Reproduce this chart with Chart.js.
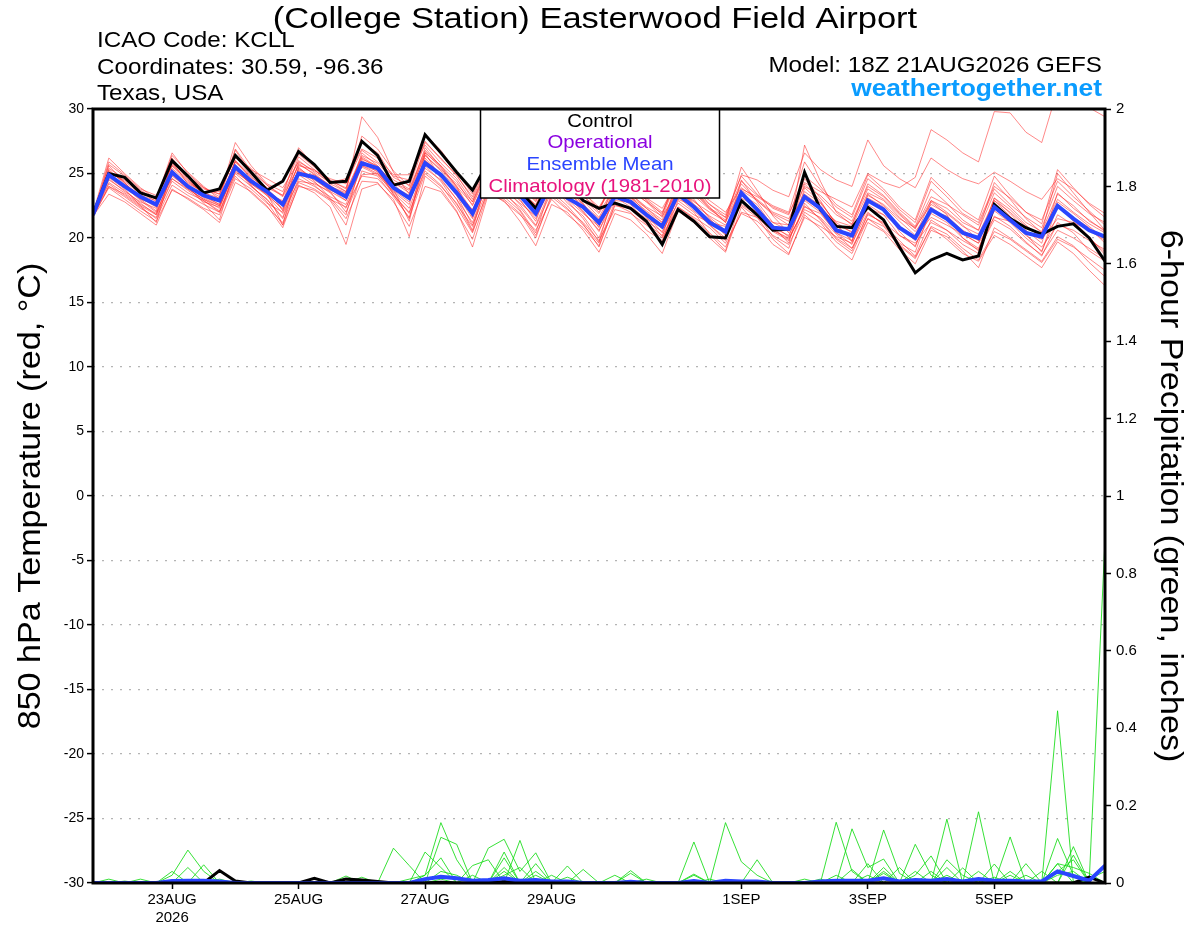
<!DOCTYPE html>
<html>
<head>
<meta charset="utf-8">
<title>Easterwood Field Airport - GEFS</title>
<script src="https://cdn.jsdelivr.net/npm/chart.js@4.4.1/dist/chart.umd.min.js"></script>
<style>
  html, body { margin: 0; padding: 0; background: #fff; }
  #wrap { position: relative; width: 1200px; height: 927px; }
</style>
</head>
<body>
<div id="wrap"><canvas id="gefsChart"></canvas></div>
<script>
// forecast hours from 18Z 21AUG2026, every 6 h
const hours = [0, 6, 12, 18, 24, 30, 36, 42, 48, 54, 60, 66, 72, 78, 84, 90, 96,
  102, 108, 114, 120, 126, 132, 138, 144, 150, 156, 162, 168, 174, 180, 186, 192,
  198, 204, 210, 216, 222, 228, 234, 240, 246, 252, 258, 264, 270, 276, 282, 288,
  294, 300, 306, 312, 318, 324, 330, 336, 342, 348, 354, 360, 366, 372, 378, 384];

const tickHours = [30, 78, 126, 174, 246, 294, 342];
const tickLabels = [['23AUG', '2026'], '25AUG', '27AUG', '29AUG', '1SEP', '3SEP', '5SEP'];

// 850 hPa temperature (C)
const tempControl = [21.8, 25.0, 24.7, 23.5, 23.1, 26.0, 24.8, 23.5, 23.8, 26.4, 25.1, 23.7, 24.4,
  26.7, 25.7, 24.3, 24.4, 27.5, 26.4, 24.1, 24.4, 28.0, 26.6, 25.1, 23.7, 25.9, 25.0, 23.6, 22.3,
  24.6, 24.2, 22.9, 22.3, 22.7, 22.3, 21.3, 19.5, 22.2, 21.3, 20.1, 20.0, 22.9, 21.8, 20.6, 20.7,
  25.1, 22.2, 20.9, 20.8, 22.4, 21.4, 19.3, 17.3, 18.3, 18.8, 18.3, 18.6, 22.6, 21.5, 20.8, 20.3,
  20.9, 21.1, 20.0, 18.2];
const tempMean = [21.8, 24.9, 24.0, 23.2, 22.6, 25.1, 24.0, 23.3, 22.9, 25.5, 24.4, 23.6, 22.6,
  25.0, 24.7, 23.9, 23.2, 25.8, 25.4, 23.9, 23.1, 25.8, 24.9, 23.5, 21.9, 24.6, 24.2, 23.3, 21.9,
  24.3, 23.1, 22.4, 21.2, 23.2, 22.8, 21.8, 20.9, 23.4, 22.4, 21.2, 20.5, 23.5, 22.2, 20.8, 20.7,
  23.2, 22.3, 20.6, 20.2, 22.9, 22.2, 20.8, 20.0, 22.2, 21.5, 20.4, 20.0, 22.4, 21.4, 20.4, 20.1,
  22.5, 21.5, 20.6, 20.1];
const tempMembers = [
  [21.8, 25.6,24.3,23.0,22.1, 25.9,24.2,23.6,22.8, 26.0,24.9,23.9,22.1, 25.4,24.6,24.0,23.5, 29.4,27.8,25.1,23.4, 27.0,25.5,24.0,21.6, 25.2,24.6,23.8,22.5, 25.3,24.0,22.6,20.8, 24.0,23.2,22.0,21.0, 24.6,23.0,21.5,20.2, 24.5,22.8,21.2,20.6, 24.2,22.9,21.0,19.8, 23.4,22.5,21.3,20.2, 22.9,22.0,21.0,19.8, 23.1,21.9,20.6,19.6, 23.5,22.3,21.4,20.5],
  [21.8, 24.8,23.9,23.0,22.6, 24.6,23.8,23.0,22.5, 25.3,24.2,23.4,22.9, 25.2,24.5,23.7,23.2, 26.3,25.5,24.3,23.5, 26.4,25.3,24.2,22.8, 25.5,24.6,23.4,22.0, 24.5,23.8,23.0,21.9, 24.0,23.4,22.4,21.7, 23.6,22.8,22.0,21.3, 23.8,23.2,22.4,21.9, 24.3,23.6,23.0,22.4, 25.0,24.3,23.9,24.7, 28.4,27.6,26.6,25.9, 29.8,29.7,28.2,27.4, 31.5,31.0,30.1,29.4],
  [21.8, 24.3,23.5,22.6,21.9, 24.8,23.9,22.9,22.1, 25.0,24.0,23.0,21.5, 24.6,24.0,23.2,22.6, 25.6,25.0,23.4,21.9, 25.4,24.5,23.0,21.2, 24.4,23.9,22.6,21.0, 24.0,23.2,22.1,20.5, 23.6,23.4,22.3,21.4, 24.2,23.5,22.3,21.6, 24.9,24.5,23.7,23.2, 26.6,25.3,24.5,24.0, 27.6,25.6,24.6,23.9, 26.2,25.3,24.6,24.2, 25.1,24.4,23.6,23.0, 24.6,23.8,22.7,21.9],
  [21.7, 23.4,22.8,21.9,21.0, 23.8,23.0,22.2,21.2, 24.3,23.6,22.5,20.8, 24.1,23.5,22.4,19.5, 23.8,24.2,23.0,20.1, 24.8,23.8,22.1,19.3, 23.4,22.9,21.3,19.4, 22.6,22.0,20.6,18.9, 21.9,21.4,20.3,18.8, 22.1,21.2,20.0,18.9, 22.4,21.0,19.5,18.7, 21.8,20.7,19.3,18.3, 21.2,20.5,19.1,18.0, 20.6,20.1,19.0,17.7, 20.8,20.0,19.1,18.2, 20.1,19.4,18.1,17.0],
  [21.8, 25.4,24.6,23.6,22.8, 26.2,24.7,23.8,23.4, 26.8,25.0,23.9,23.3, 26.0,25.1,24.3,24.6, 26.9,26.2,24.9,24.9, 27.2,25.8,24.6,22.8, 25.8,24.9,23.9,22.4, 24.9,24.0,22.9,21.6, 23.9,23.2,22.3,21.2, 24.1,23.3,22.2,21.4, 24.2,22.9,21.8,21.0, 23.6,22.7,21.2,20.4, 23.3,22.6,21.5,20.8, 22.6,21.9,20.9,20.3, 22.9,22.0,20.9,20.1, 22.4,21.6,20.8,19.6],
  [21.9, 24.6,23.6,22.8,22.3, 25.2,24.1,23.2,22.6, 25.6,24.5,23.4,22.2, 25.1,24.3,23.5,22.3, 25.6,25.2,23.5,22.3, 25.6,24.4,22.6,20.9, 24.7,24.0,22.9,21.5, 24.2,22.7,21.7,20.0, 23.3,22.6,21.2,19.6, 23.5,22.9,21.6,20.6, 23.6,22.3,20.6,19.9, 22.4,21.9,20.4,19.5, 22.6,21.8,20.2,19.4, 21.9,21.2,20.0,19.2, 22.1,21.2,20.0,19.0, 21.8,21.0,20.0,18.9],
  [21.6, 24.0,23.2,22.3,21.6, 24.6,23.7,22.8,22.4, 25.2,24.2,23.3,21.9, 24.4,24.2,23.6,22.0, 24.9,25.0,23.8,21.3, 26.2,24.8,23.3,21.0, 23.9,23.4,22.4,20.9, 23.6,22.5,21.1,19.3, 22.6,22.0,20.6,19.8, 22.9,22.0,20.3,19.0, 23.0,21.9,20.1,19.2, 22.7,21.4,19.9,19.0, 21.9,21.1,19.8,18.6, 21.4,20.6,19.5,18.8, 21.7,20.9,19.7,18.6, 21.2,20.4,19.0,18.2],
  [21.8, 25.9,24.9,23.8,23.3, 25.6,24.5,23.4,22.9, 25.9,24.8,23.6,22.8, 26.3,25.3,24.2,23.6, 26.4,25.8,24.5,23.8, 26.8,25.6,24.4,22.5, 25.3,24.5,23.5,22.3, 25.0,23.7,22.7,21.0, 24.6,23.7,22.8,21.6, 24.8,23.6,22.3,21.2, 25.5,23.7,21.7,20.4, 27.2,24.4,22.0,21.0, 24.2,23.3,22.0,20.9, 23.8,22.7,21.4,20.6, 24.3,23.0,21.5,20.4, 25.0,23.5,22.0,20.6],
  [21.7, 24.9,24.0,22.9,22.0, 24.9,23.8,23.0,22.3, 25.5,24.0,23.0,21.6, 25.0,24.9,24.1,23.1, 25.5,24.9,23.6,22.6, 26.4,25.2,23.8,21.8, 24.8,24.2,23.0,21.3, 24.6,23.3,22.0,20.6, 22.9,22.8,21.8,20.4, 23.2,22.1,21.0,20.0, 23.1,22.4,20.8,20.2, 22.9,22.0,20.4,19.8, 22.3,21.8,20.9,20.1, 21.6,21.0,20.3,19.6, 21.6,21.3,20.4,19.9, 21.5,21.2,20.6,19.8],
  [21.9, 25.3,24.2,23.3,22.9, 25.6,24.4,23.5,23.1, 25.9,24.7,23.8,22.7, 25.7,25.0,24.0,23.4, 26.1,25.6,24.0,23.3, 26.0,25.0,23.6,22.2, 25.0,24.3,23.1,22.1, 24.4,23.5,22.6,21.5, 23.4,23.1,22.1,21.2, 23.9,22.6,21.7,21.0, 22.8,22.0,21.2,21.0, 23.0,22.2,21.3,20.9, 23.5,22.9,21.6,20.5, 22.1,21.7,20.6,19.9, 22.6,21.6,20.8,20.3, 23.0,22.0,21.1,20.4],
  [21.8, 24.2,23.3,22.4,21.5, 24.1,23.3,22.6,22.0, 24.8,23.5,22.4,21.2, 24.3,23.8,23.0,22.4, 24.8,24.6,23.3,22.0, 25.2,24.1,22.4,20.4, 23.8,23.2,22.1,20.2, 23.2,22.2,21.2,19.8, 22.2,21.9,21.0,20.0, 22.4,21.6,20.8,19.6, 21.9,21.3,20.2,19.5, 22.0,21.2,19.7,18.8, 21.5,20.9,19.4,18.4, 20.9,20.3,19.2,18.3, 20.5,19.9,19.0,18.1, 19.9,19.3,18.4,17.5],
  [21.8, 25.1,24.4,23.4,22.5, 25.4,24.3,23.6,23.6, 26.2,25.3,24.6,23.9, 25.9,25.2,24.6,24.2, 26.8,25.9,24.8,24.5, 27.5,26.1,24.9,23.0, 26.0,25.1,24.0,22.8, 25.4,24.5,23.5,22.4, 24.4,24.0,23.1,22.3, 24.5,23.8,22.9,22.0, 23.9,23.0,22.0,21.5, 24.0,23.3,22.1,21.3, 24.0,23.2,21.9,20.8, 23.2,22.6,21.8,21.0, 23.8,22.6,21.6,20.8, 24.0,22.9,21.9,21.2],
  [21.7, 23.9,23.0,22.1,21.3, 23.7,23.1,22.3,21.8, 24.6,23.8,22.7,22.0, 24.9,24.1,23.0,21.5, 24.4,24.3,22.8,20.9, 24.0,23.6,22.0,19.9, 23.6,22.8,21.8,20.6, 23.0,21.8,20.8,19.4, 22.5,22.3,21.3,20.5, 22.7,21.8,21.2,20.9, 22.5,21.6,19.9,18.8, 21.6,20.9,20.1,19.6, 22.0,21.0,19.6,18.9, 22.4,21.5,20.5,19.8, 22.3,21.4,20.2,19.3, 21.0,20.6,19.8,19.1],
  [21.8, 25.7,24.8,23.7,23.0, 26.6,25.0,23.9,23.2, 27.4,25.6,24.2,23.6, 26.5,25.5,24.4,23.9, 27.4,26.6,24.7,24.1, 28.0,26.8,25.1,23.4, 26.4,25.4,24.3,23.0, 25.9,24.8,23.3,22.0, 25.0,24.2,22.9,21.8, 25.2,24.0,22.6,21.8, 24.8,23.4,22.3,21.8, 24.8,23.8,22.4,21.6, 24.6,23.6,22.2,21.2, 24.4,23.2,21.9,21.2, 24.0,23.1,22.0,21.4, 24.4,23.2,22.1,21.0],
  [21.8, 24.5,23.7,22.7,21.8, 25.0,24.0,23.1,22.5, 25.4,24.4,23.3,22.3, 25.3,24.6,23.6,22.9, 25.9,25.1,23.7,22.8, 26.0,24.9,23.4,21.5, 24.5,23.8,22.7,21.7, 23.9,23.0,21.9,20.9, 23.2,22.4,21.5,20.8, 23.0,22.5,21.4,20.5, 22.6,21.8,20.6,20.0, 22.2,21.6,20.3,19.2, 21.5,20.6,19.5,18.5, 20.8,19.9,18.8,18.2, 20.2,19.5,18.6,17.7, 19.7,18.8,17.5,16.3],
  [21.8, 25.2,24.3,23.1,22.4, 25.7,24.6,23.3,22.6, 26.0,24.6,23.5,22.5, 25.8,24.9,23.8,22.9, 26.6,25.6,24.2,23.0, 26.7,25.4,23.9,22.1, 25.1,24.4,23.3,21.8, 24.8,23.6,22.4,21.3, 23.7,23.0,21.9,20.7, 23.8,22.6,21.3,20.3, 23.3,22.2,21.0,20.1, 23.4,22.5,21.0,20.5, 23.0,22.2,20.9,19.8, 22.3,21.5,20.3,19.6, 23.1,22.2,21.0,20.0, 22.8,21.9,20.9,19.9],
  [21.8, 24.0,23.4,22.5,21.8, 24.4,23.5,22.9,22.0, 25.1,24.3,23.5,21.0, 24.0,23.7,22.9,21.0, 25.2,24.8,23.2,21.6, 25.0,24.0,22.7,20.5, 23.7,23.0,21.9,20.0, 23.4,22.3,21.0,19.6, 22.8,22.2,21.1,20.2, 22.4,21.5,20.4,19.3, 22.0,21.6,20.5,19.8, 22.5,21.5,20.0,19.2, 21.8,21.2,20.2,19.6, 21.2,20.6,19.8,19.1, 21.4,20.7,19.6,18.7, 20.6,20.0,19.2,18.4],
  [21.9, 26.2,25.0,23.9,23.0, 26.4,25.1,24.0,23.0, 26.9,25.2,24.1,23.3, 27.0,25.6,24.5,23.8, 27.9,26.9,25.2,24.0, 27.4,26.2,24.8,23.2, 26.3,25.2,24.2,22.9, 25.6,24.6,23.6,22.2, 24.8,24.0,23.0,22.0, 24.9,23.6,22.6,21.6, 24.4,23.3,22.5,22.0, 25.9,24.0,22.6,21.8, 24.9,23.8,22.4,21.4, 24.7,23.5,22.2,21.4, 24.8,23.3,22.0,21.1, 25.3,23.9,22.6,21.6],
  [21.8, 24.7,23.8,22.5,21.2, 25.3,24.0,22.7,21.4, 25.7,24.1,22.8,21.0, 25.5,24.4,23.1,21.8, 26.0,25.3,23.4,21.5, 26.6,24.6,23.0,20.6, 24.9,23.6,22.2,20.4, 24.1,22.9,21.5,19.7, 23.8,22.7,21.6,20.1, 24.0,22.4,21.0,19.8, 23.4,22.6,20.9,19.6, 23.9,22.8,21.1,19.7, 23.1,22.4,20.5,19.3, 22.8,21.8,20.0,19.0, 22.9,21.7,20.3,18.9, 22.6,21.3,20.1,18.7],
  [21.8, 25.0,24.5,23.6,23.0, 25.8,24.8,23.9,23.4, 26.3,25.4,24.1,23.2, 25.6,25.3,24.4,23.6, 26.2,25.4,24.3,23.7, 26.6,25.6,24.0,22.6, 25.6,24.8,23.6,22.6, 24.9,24.1,23.2,22.3, 24.2,23.7,22.8,21.9, 24.7,23.7,22.4,21.2, 23.7,22.9,21.9,21.3, 24.6,23.1,21.8,21.1, 23.8,23.0,21.8,20.7, 22.9,22.3,21.2,20.6, 23.5,22.4,21.2,20.5, 23.4,22.5,21.3,20.6]
];

// 6-hour precipitation (inches)
const precipControl = [0, 0,0,0,0, 0,0,0,0.032, 0.005,0,0,0, 0,0.012,0,0.01, 0.008,0.004,0,0, 0,0.002,0,0, 0,0.004,0,0, 0,0,0,0, 0,0,0,0, 0,0,0,0, 0,0,0,0, 0,0,0,0, 0,0,0,0, 0,0,0,0, 0,0,0,0, 0,0,0.015,0];
const precipMean = [0, 0,0,0,0, 0.005,0.006,0.006,0.004, 0,0,0,0, 0,0,0,0, 0,0,0,0, 0.01,0.016,0.012,0.006, 0.008,0.012,0.006,0.008, 0.004,0.004,0,0, 0,0.003,0,0, 0,0.005,0,0.006, 0.004,0.004,0,0, 0,0.004,0.006,0.006, 0.006,0.012,0.004,0.008, 0.006,0.01,0.004,0.01, 0.006,0.006,0.004,0.004, 0.03,0.018,0.006,0.045];
const precipMembers = [
  [0, 0,0,0,0, 0.02,0.085,0.03,0, 0,0,0,0, 0,0,0,0, 0,0,0,0, 0.02,0.156,0.06,0, 0,0.03,0,0, 0,0,0,0, 0,0,0,0, 0,0.02,0,0.156, 0.055,0.02,0,0, 0,0,0,0, 0,0.03,0,0, 0,0.04,0,0, 0,0,0,0, 0.445,0,0.01,0.03],
  [0, 0,0,0.01,0, 0,0,0.047,0, 0,0,0,0, 0,0,0,0, 0,0,0.09,0.045, 0,0.118,0.1,0, 0,0.065,0,0.05, 0,0,0,0, 0,0,0,0, 0,0,0,0, 0,0.06,0,0, 0,0,0.157,0.03, 0,0,0,0.1, 0.02,0,0,0, 0,0.119,0,0, 0.05,0,0.005,0.886],
  [0, 0.01,0,0,0, 0.03,0,0,0, 0,0,0,0, 0,0,0,0, 0,0,0,0, 0.08,0.04,0,0, 0.09,0.113,0.03,0.078, 0,0.044,0,0, 0,0.032,0,0, 0,0.106,0,0, 0,0,0,0, 0,0,0,0.14, 0.04,0.062,0,0, 0,0.165,0,0, 0.049,0,0,0, 0.115,0.02,0,0],
  [0, 0,0,0,0, 0,0.04,0,0.01, 0,0,0,0, 0,0,0,0.018, 0,0,0,0, 0,0,0,0.045, 0.06,0,0.11,0, 0.02,0,0.035,0, 0.02,0,0,0, 0,0,0,0, 0,0,0,0, 0,0.01,0,0, 0,0.137,0.025,0, 0,0,0,0.184, 0,0,0.05,0, 0,0.094,0,0],
  [0, 0,0,0,0, 0,0,0,0, 0,0,0,0, 0,0,0,0, 0.015,0,0,0, 0,0.03,0.02,0, 0,0.08,0,0.03, 0,0,0,0, 0,0.025,0,0, 0,0,0.01,0, 0,0,0,0, 0,0,0,0, 0.05,0,0,0.02, 0.07,0,0.039,0, 0,0.03,0,0.03, 0,0.072,0,0],
  [0, 0,0,0,0, 0,0,0,0, 0,0,0,0, 0,0,0,0, 0,0,0,0.01, 0.02,0.065,0,0.02, 0,0.04,0,0, 0,0,0,0, 0,0,0.01,0, 0,0.023,0,0, 0,0,0,0, 0,0,0,0.035, 0,0.04,0,0, 0,0.02,0,0.03, 0,0,0,0, 0.05,0.04,0.025,0],
  [0, 0,0,0,0, 0,0,0,0, 0,0.005,0,0, 0,0,0,0, 0,0,0,0, 0,0.01,0,0, 0,0,0,0.02, 0,0.015,0,0, 0,0,0,0, 0,0,0,0, 0,0,0,0, 0,0,0,0, 0.02,0,0.04,0, 0.03,0,0,0, 0.015,0,0.02,0, 0.03,0.06,0,0],
  [0, 0,0.005,0,0, 0,0,0,0, 0,0,0,0, 0,0,0,0, 0,0,0,0, 0,0,0,0, 0,0.02,0.04,0, 0,0,0,0, 0,0,0,0, 0,0,0,0, 0,0,0,0, 0.01,0,0.02,0, 0,0.025,0,0.03, 0,0.06,0.02,0, 0,0.02,0,0, 0.02,0.03,0,0]
];

const FONT = '"Liberation Sans", Arial, Helvetica, sans-serif';

function wideText(ctx, str, x, y, size, color, align, opts) {
    opts = opts || {};
    ctx.save();
    ctx.translate(x, y);
    if (opts.rot) ctx.rotate(opts.rot);
    ctx.scale(opts.sx || 1.1, 1);
    ctx.font = (opts.bold ? 'bold ' : '') + size + 'px ' + FONT;
    ctx.fillStyle = color;
    ctx.textAlign = align;
    ctx.textBaseline = opts.baseline || 'alphabetic';
    ctx.fillText(str, 0, 0);
    ctx.restore();
}

const decorPlugin = {
    id: 'decor',
    afterDraw(chart) {
        const ctx = chart.ctx;
        const a = chart.chartArea;

        // legend box
        ctx.save();
        ctx.fillStyle = '#fff';
        ctx.fillRect(480.5, a.top, 239, 89);
        ctx.strokeStyle = '#000';
        ctx.lineWidth = 1.5;
        ctx.strokeRect(480.5, a.top, 239, 89);
        ctx.restore();
        wideText(ctx, 'Control', 600, 127, 18.5, '#000', 'center');
        wideText(ctx, 'Operational', 600, 148, 18.5, '#8a00e0', 'center');
        wideText(ctx, 'Ensemble Mean', 600, 170, 18.5, '#2a45ff', 'center');
        wideText(ctx, 'Climatology (1981-2010)', 600, 192, 18.5, '#e8137c', 'center');

        // plot frame
        ctx.save();
        ctx.strokeStyle = '#000';
        ctx.lineWidth = 3;
        ctx.strokeRect(a.left, a.top, a.right - a.left, a.bottom - a.top);
        ctx.restore();

        // header texts
        wideText(ctx, '(College Station) Easterwood Field Airport', 595, 28, 30, '#000', 'center', {sx: 1.15});
        wideText(ctx, 'ICAO Code: KCLL', 97, 47, 22, '#000', 'left');
        wideText(ctx, 'Coordinates: 30.59, -96.36', 97, 74, 22, '#000', 'left');
        wideText(ctx, 'Texas, USA', 97, 100, 22, '#000', 'left');
        wideText(ctx, 'Model: 18Z 21AUG2026 GEFS', 1102, 72, 22, '#000', 'right');
        wideText(ctx, 'weathertogether.net', 1102, 96, 24, '#0a9cff', 'right', {bold: true});

        // axis titles
        wideText(ctx, '850 hPa Temperature (red, \u00B0C)', 31, 496, 31, '#000', 'center',
            {rot: -Math.PI / 2, baseline: 'middle'});
        wideText(ctx, '6-hour Precipitation (green, inches)', 1170, 496, 31, '#000', 'center',
            {rot: Math.PI / 2, baseline: 'middle'});
    }
};

const datasets = [];
datasets.push({ data: precipMean, yAxisID: 'y2', borderColor: '#2a45ff', borderWidth: 4, order: 0 });
datasets.push({ data: tempMean, yAxisID: 'y', borderColor: '#2a45ff', borderWidth: 4, order: 0 });
datasets.push({ data: precipControl, yAxisID: 'y2', borderColor: '#000', borderWidth: 3, order: 1 });
datasets.push({ data: tempControl, yAxisID: 'y', borderColor: '#000', borderWidth: 3, order: 1 });
precipMembers.forEach(function (m) {
    datasets.push({ data: m, yAxisID: 'y2', borderColor: 'rgba(20, 220, 20, 0.85)', borderWidth: 1, order: 2 });
});
tempMembers.forEach(function (m) {
    datasets.push({ data: m, yAxisID: 'y', borderColor: 'rgba(255, 40, 40, 0.55)', borderWidth: 1, order: 3 });
});

document.addEventListener('DOMContentLoaded', function () {
    const ctx = document.getElementById('gefsChart');

    new Chart(ctx, {
        type: 'line',
        data: {
            labels: hours,
            datasets: datasets
        },
        options: {
            responsive: true,
            maintainAspectRatio: false,
            animation: false,
            layout: { padding: { top: 109, left: 0, right: 0, bottom: 0 } },
            elements: {
                point: { radius: 0 },
                line: { tension: 0, fill: false }
            },
            plugins: {
                legend: { display: false },
                title: { display: false },
                tooltip: { enabled: false }
            },
            scales: {
                x: {
                    type: 'linear',
                    min: 0,
                    max: 384,
                    afterFit: function (s) { s.height = 44; },
                    afterBuildTicks: function (s) {
                        s.ticks = tickHours.map(function (h) { return { value: h }; });
                    },
                    ticks: {
                        autoSkip: false,
                        maxRotation: 0,
                        padding: 2,
                        color: '#000',
                        font: { family: FONT, size: 15 },
                        callback: function (v) { return tickLabels[tickHours.indexOf(v)]; }
                    },
                    grid: { drawOnChartArea: false, tickLength: 6, tickColor: '#000', tickWidth: 1.5 },
                    border: { display: false }
                },
                y: {
                    position: 'left',
                    min: -30,
                    max: 30,
                    afterFit: function (s) { s.width = 93; },
                    ticks: {
                        stepSize: 5,
                        padding: 3,
                        color: '#000',
                        font: { family: FONT, size: 14 }
                    },
                    grid: {
                        color: '#b4b4b4',
                        lineWidth: 1.2,
                        tickLength: 6,
                        tickColor: '#000',
                        tickWidth: 1.5,
                        tickBorderDash: []
                    },
                    border: { display: false, dash: [2, 7] }
                },
                y2: {
                    position: 'right',
                    min: 0,
                    max: 2,
                    afterFit: function (s) { s.width = 95; },
                    ticks: {
                        stepSize: 0.2,
                        padding: 5,
                        color: '#000',
                        font: { family: FONT, size: 15 },
                        callback: function (v) { return String(Number(v.toFixed(1))); }
                    },
                    grid: { drawOnChartArea: false, tickLength: 6, tickColor: '#000', tickWidth: 1.5 },
                    border: { display: false }
                }
            }
        },
        plugins: [decorPlugin]
    });
});
</script>
</body>
</html>
